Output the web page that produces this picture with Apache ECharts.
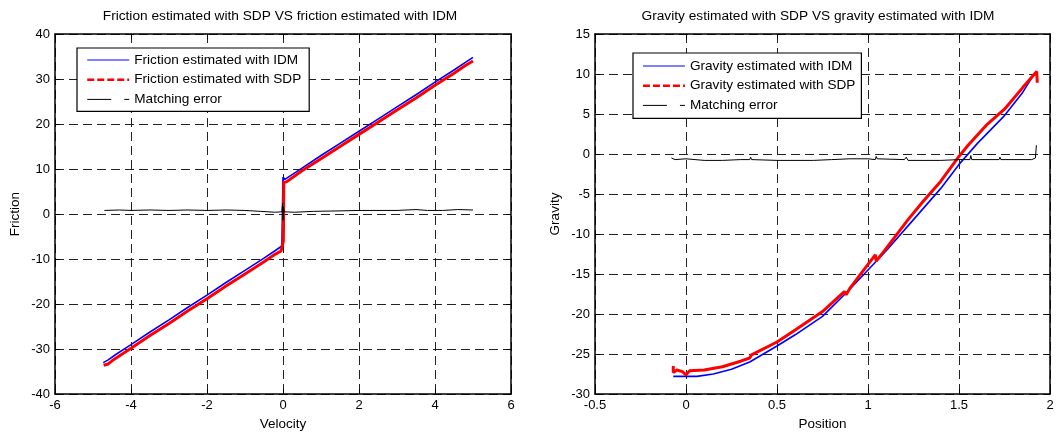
<!DOCTYPE html>
<html>
<head>
<meta charset="utf-8">
<title>Friction / Gravity</title>
<script src="https://cdn.jsdelivr.net/npm/echarts@6/dist/echarts.min.js"></script>
<style>
  html, body { margin: 0; padding: 0; background: #fff; }
  #chart { width: 1057px; height: 436px; }
</style>
</head>
<body>
<div id="chart"></div>
<script>
// ---- left plot: friction vs velocity ----
var frictionIdm = [
  [-4.73, -33.0], [-4.6, -32.4], [-4.4, -31.2], [-4.0, -29.0], [-3.5, -26.2],
  [-3.0, -23.5], [-2.5, -20.7], [-2.0, -18.0], [-1.5, -15.2], [-1.0, -12.5],
  [-0.5, -9.8], [-0.2, -8.1], [-0.03, -7.1], [0.0, -7.0], [0.0, 8.2],
  [0.05, 7.7], [0.1, 7.8], [0.5, 10.2], [1.0, 13.0], [1.5, 15.7], [2.0, 18.4],
  [2.5, 21.1], [3.0, 23.8], [3.5, 26.5], [4.0, 29.3], [4.5, 32.0], [4.8, 33.7], [5.0, 34.8]
];
var frictionSdp = [
  [-4.72, -33.6], [-4.6, -33.3], [-4.45, -32.3], [-4.0, -29.8], [-3.5, -27.0],
  [-3.0, -24.3], [-2.5, -21.5], [-2.0, -18.8], [-1.5, -16.0], [-1.0, -13.3],
  [-0.5, -10.6], [-0.2, -8.9], [-0.05, -8.2], [0.0, -8.4], [0.01, -6.0],
  [0.02, 7.0], [0.1, 7.2], [0.5, 9.6], [1.0, 12.3], [1.5, 15.0], [2.0, 17.7],
  [2.5, 20.4], [3.0, 23.1], [3.5, 25.8], [4.0, 28.6], [4.5, 31.3], [4.8, 33.0], [5.0, 34.0]
];
var frictionErr = [
  [-4.7, 0.8], [-4.3, 0.9], [-4.0, 0.8], [-3.5, 0.9], [-3.0, 0.8], [-2.5, 0.9],
  [-2.0, 0.8], [-1.5, 0.9], [-1.0, 0.8], [-0.6, 0.6], [-0.2, 0.4], [-0.03, 0.5],
  [-0.01, 2.4], [0.0, -1.4], [0.01, 1.6], [0.03, 0.5], [0.3, 0.4], [0.8, 0.6],
  [1.5, 0.7], [2.0, 0.8], [2.5, 0.8], [3.0, 0.8], [3.5, 1.0], [3.8, 0.8],
  [4.2, 0.8], [4.6, 1.0], [5.0, 0.9]
];

// ---- right plot: gravity vs position ----
var gravityIdm = [
  [-0.07, -27.8], [0.0, -27.8], [0.06, -27.8], [0.15, -27.5], [0.25, -26.9],
  [0.35, -26.0], [0.5, -24.0], [0.6, -22.6], [0.75, -20.3], [0.9, -16.9],
  [1.0, -14.5], [1.1, -12.1], [1.25, -8.2], [1.4, -4.3], [1.5, -1.3],
  [1.6, 1.3], [1.75, 4.8], [1.85, 7.7], [1.91, 9.9]
];
var gravitySdp = [
  [-0.07, -26.5], [-0.07, -27.3], [-0.05, -27.0], [-0.02, -27.2], [0.0, -27.6],
  [0.02, -27.1], [0.1, -27.0], [0.2, -26.6], [0.3, -25.9], [0.35, -25.5],
  [0.36, -25.1], [0.5, -23.5], [0.6, -22.0], [0.75, -19.7], [0.87, -17.2],
  [0.88, -17.6], [0.9, -16.8], [1.0, -13.8], [1.04, -12.6], [1.045, -13.4],
  [1.1, -11.8], [1.22, -8.2], [1.3, -6.0], [1.4, -3.4], [1.5, -0.3], [1.55, 1.1],
  [1.65, 3.6], [1.75, 5.6], [1.85, 8.3], [1.927, 10.3], [1.93, 8.9]
];
var gravityErr = [
  [-0.08, -0.5], [-0.06, -0.7], [0.0, -0.6], [0.1, -0.8], [0.2, -0.8],
  [0.3, -0.7], [0.35, -0.7], [0.355, -0.4], [0.36, -0.7], [0.5, -0.8],
  [0.7, -0.8], [0.8, -0.7], [0.9, -0.6], [1.0, -0.6], [1.04, -0.7],
  [1.045, -0.3], [1.05, -0.6], [1.2, -0.7], [1.21, -0.4], [1.22, -0.8],
  [1.4, -0.8], [1.5, -0.7], [1.56, -0.7], [1.565, -0.2], [1.57, -0.7],
  [1.72, -0.7], [1.725, -0.4], [1.73, -0.7], [1.9, -0.7], [1.92, -0.5], [1.925, 1.1]
];

var leftX = { min: -6, max: 6, step: 2 };
var leftY = { min: -40, max: 40, step: 10 };
var rightX = { min: -0.5, max: 2, step: 0.5 };
var rightY = { min: -30, max: 15, step: 5 };

var FONT = "'Liberation Sans', Arial, sans-serif";

function mainAxis(r, grid, pos, name, gap) {
  return {
    type: 'value', gridIndex: grid, position: pos,
    min: r.min, max: r.max, interval: r.step,
    name: name, nameLocation: 'middle', nameGap: gap,
    nameTextStyle: { color: '#000', fontSize: 13.5, fontFamily: FONT },
    axisLine: { show: true, onZero: false, lineStyle: { color: '#000', width: 1.5 } },
    axisTick: { show: true, inside: true, length: 5, lineStyle: { color: '#000' } },
    axisLabel: { color: '#000', fontSize: 13, fontFamily: FONT, margin: 5 },
    splitLine: { show: true, lineStyle: { color: '#222', width: 1, type: [9, 5] } }
  };
}
function boxAxis(r, grid, pos) {
  return {
    type: 'value', gridIndex: grid, position: pos,
    min: r.min, max: r.max, interval: r.step,
    axisLine: { show: true, onZero: false, lineStyle: { color: '#000', width: 1.5 } },
    axisTick: { show: true, inside: true, length: 5, lineStyle: { color: '#000' } },
    axisLabel: { show: false },
    splitLine: { show: false }
  };
}
function curve(name, data, xi, color, width, z) {
  return {
    name: name, type: 'line', xAxisIndex: xi, yAxisIndex: xi,
    data: data, symbol: 'none', showSymbol: false, animation: false, z: z,
    lineStyle: { color: color, width: width }, itemStyle: { color: color }
  };
}
function legendBox(names, left, top, pad) {
  return {
    orient: 'vertical', left: left, top: top, padding: pad,
    itemWidth: 42, itemHeight: 14, itemGap: 5.7,
    borderColor: '#000', borderWidth: 1.2, backgroundColor: '#fff',
    textStyle: { color: '#000', fontSize: 13.6, fontFamily: FONT },
    selectedMode: false,
    data: [
      { name: names[0], itemStyle: { opacity: 0 }, lineStyle: { width: 1, type: 'solid' } },
      { name: names[1], itemStyle: { opacity: 0 }, lineStyle: { width: 2.5, type: [7, 3] } },
      { name: names[2], itemStyle: { opacity: 0 }, lineStyle: { width: 1, type: [24, 13, 5, 0] } }
    ]
  };
}

var chart = echarts.init(document.getElementById('chart'), null, { renderer: 'canvas' });
chart.setOption({
  animation: false,
  backgroundColor: '#fff',
  title: [
    { text: 'Friction estimated with SDP VS friction estimated with IDM', left: 280, top: 9,
      padding: 0, textAlign: 'center',
      textStyle: { color: '#000', fontSize: 13.7, fontWeight: 'normal', fontFamily: FONT } },
    { text: 'Gravity estimated with SDP VS gravity estimated with IDM', left: 818, top: 9,
      padding: 0, textAlign: 'center',
      textStyle: { color: '#000', fontSize: 13.7, fontWeight: 'normal', fontFamily: FONT } }
  ],
  legend: [
    legendBox(['Friction estimated with IDM', 'Friction estimated with SDP', 'Matching error'], 77, 48, [5, 8, 5, 9]),
    legendBox(['Gravity estimated with IDM', 'Gravity estimated with SDP', 'Matching error'], 633, 53, [6, 6, 6, 8.7])
  ],
  grid: [
    { left: 55, top: 34, width: 456, height: 364 },
    { left: 595, top: 34, width: 455, height: 360 }
  ],
  xAxis: [
    mainAxis(leftX, 0, 'bottom', 'Velocity', 22),
    mainAxis(rightX, 1, 'bottom', 'Position', 22),
    boxAxis(leftX, 0, 'top'),
    boxAxis(rightX, 1, 'top')
  ],
  yAxis: [
    mainAxis(leftY, 0, 'left', 'Friction', 33),
    mainAxis(rightY, 1, 'left', 'Gravity', 33),
    boxAxis(leftY, 0, 'right'),
    boxAxis(rightY, 1, 'right')
  ],
  series: [
    curve('Friction estimated with IDM', frictionIdm, 0, '#0000ff', 1.6, 2),
    curve('Friction estimated with SDP', frictionSdp, 0, '#ff0000', 3, 3),
    curve('Matching error', frictionErr, 0, '#000000', 1, 4),
    curve('Gravity estimated with IDM', gravityIdm, 1, '#0000ff', 1.6, 2),
    curve('Gravity estimated with SDP', gravitySdp, 1, '#ff0000', 3, 3),
    curve('Matching error', gravityErr, 1, '#000000', 1, 4)
  ]
});
</script>
</body>
</html>
